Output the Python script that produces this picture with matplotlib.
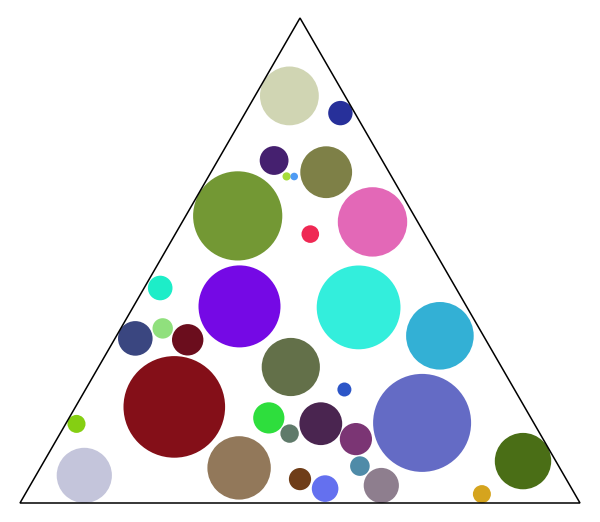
import matplotlib
matplotlib.use("Agg")
import matplotlib.pyplot as plt
from matplotlib.patches import Circle, Polygon

# triangle corners (pixel space, y down)
tri_x = [20, 580, 300]
tri_y = [503, 503, 18]

# circles: centre x, centre y, radius, colour
cx = [289.4, 340.4, 274.1, 326.2, 286.6, 294.2, 237.7, 310.3, 372.5, 160.2,
      239.5, 358.6, 439.9, 135.3, 162.7, 187.7, 290.8, 344.4, 174.3, 422.1,
      76.5, 268.8, 289.6, 320.8, 355.9, 523.0, 84.3, 239.1, 359.9, 300.0,
      325.1, 381.3, 481.9]
cy = [95.9, 113.1, 160.5, 172.2, 176.4, 176.5, 215.9, 234.1, 221.9, 288.0,
      306.4, 307.4, 335.8, 338.4, 328.4, 339.8, 367.0, 389.5, 406.9, 422.9,
      423.9, 417.9, 433.6, 423.7, 439.1, 461.1, 475.4, 467.9, 466.1, 479.1,
      488.6, 485.5, 494.1]
r = [29.4, 12.2, 14.4, 25.9, 4.1, 3.8, 44.6, 8.8, 34.7, 12.3,
     41.0, 41.9, 33.8, 17.3, 10.2, 15.7, 29.1, 7.0, 50.8, 49.0,
     9.0, 15.6, 9.2, 21.4, 16.1, 28.2, 27.6, 31.7, 9.8, 11.1,
     13.3, 17.6, 9.0]
colors = ["#D0D5B3", "#27309A", "#45206F", "#7E8047", "#A6DC3A", "#4F9BF4",
          "#739834", "#EF2853", "#E368B7", "#1DEDC8", "#7509E5", "#33EEDC",
          "#33B0D5", "#3A4680", "#90E07D", "#6B0D1D", "#637049", "#2C55C7",
          "#840F18", "#646BC5", "#85CF12", "#2EDE3D", "#5F7A6A", "#4A2550",
          "#7B3574", "#4A6E16", "#C4C5DB", "#92785A", "#4F8BA8", "#6F3D18",
          "#6470EF", "#8E7E8E", "#D5A41E"]

fig = plt.figure(figsize=(6, 5.22), dpi=100)
ax = fig.add_axes([0, 0, 1, 1])
ax.set_xlim(0, 600)
ax.set_ylim(522, 0)
ax.axis("off")

ax.add_patch(Polygon(list(zip(tri_x, tri_y)), closed=True, fill=False,
                     edgecolor="black", linewidth=1.1, zorder=3))

for x, y, rad, c in zip(cx, cy, r, colors):
    ax.add_patch(Circle((x, y), rad, facecolor=c, edgecolor="none", zorder=2))

fig.savefig("out.png", dpi=100)
